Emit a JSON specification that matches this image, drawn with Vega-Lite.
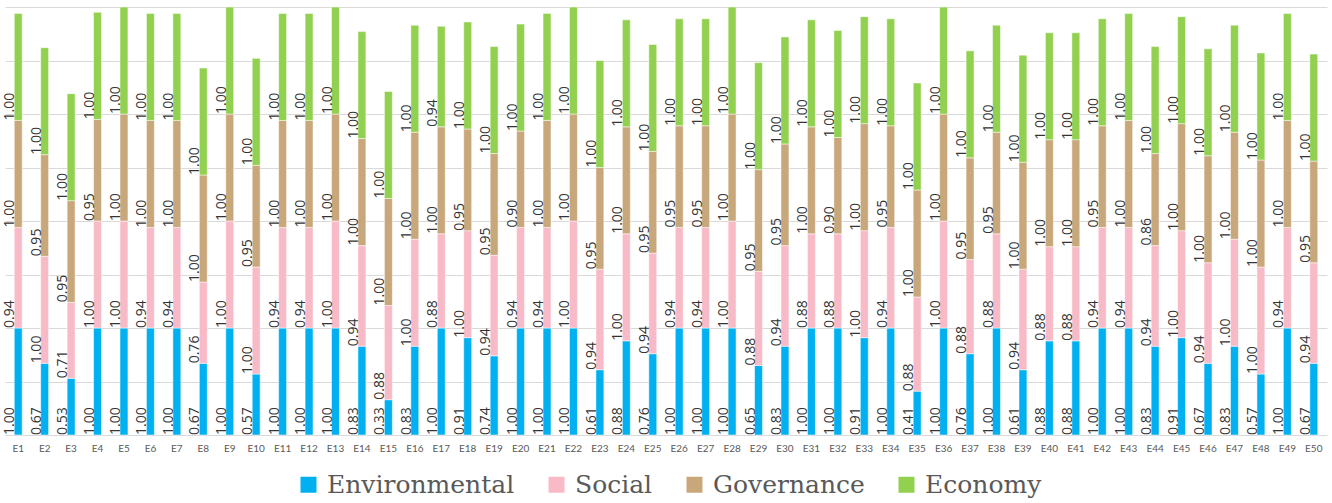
{
"$schema":"https://vega.github.io/schema/vega-lite/v6.json",
"width":1322,"height":428,
"autosize":{"type":"none"},
"padding":{"left":5,"top":7,"right":5,"bottom":68},
"background":"white",
"config":{"view":{"stroke":null}},
"data":{"values":[
{"e":"E1","c":"Environmental","v":1,"o":1},{"e":"E1","c":"Social","v":0.94,"o":2},{"e":"E1","c":"Governance","v":1,"o":3},{"e":"E1","c":"Economy","v":1,"o":4},
{"e":"E2","c":"Environmental","v":0.67,"o":1},{"e":"E2","c":"Social","v":1,"o":2},{"e":"E2","c":"Governance","v":0.95,"o":3},{"e":"E2","c":"Economy","v":1,"o":4},
{"e":"E3","c":"Environmental","v":0.53,"o":1},{"e":"E3","c":"Social","v":0.71,"o":2},{"e":"E3","c":"Governance","v":0.95,"o":3},{"e":"E3","c":"Economy","v":1,"o":4},
{"e":"E4","c":"Environmental","v":1,"o":1},{"e":"E4","c":"Social","v":1,"o":2},{"e":"E4","c":"Governance","v":0.95,"o":3},{"e":"E4","c":"Economy","v":1,"o":4},
{"e":"E5","c":"Environmental","v":1,"o":1},{"e":"E5","c":"Social","v":1,"o":2},{"e":"E5","c":"Governance","v":1,"o":3},{"e":"E5","c":"Economy","v":1,"o":4},
{"e":"E6","c":"Environmental","v":1,"o":1},{"e":"E6","c":"Social","v":0.94,"o":2},{"e":"E6","c":"Governance","v":1,"o":3},{"e":"E6","c":"Economy","v":1,"o":4},
{"e":"E7","c":"Environmental","v":1,"o":1},{"e":"E7","c":"Social","v":0.94,"o":2},{"e":"E7","c":"Governance","v":1,"o":3},{"e":"E7","c":"Economy","v":1,"o":4},
{"e":"E8","c":"Environmental","v":0.67,"o":1},{"e":"E8","c":"Social","v":0.76,"o":2},{"e":"E8","c":"Governance","v":1,"o":3},{"e":"E8","c":"Economy","v":1,"o":4},
{"e":"E9","c":"Environmental","v":1,"o":1},{"e":"E9","c":"Social","v":1,"o":2},{"e":"E9","c":"Governance","v":1,"o":3},{"e":"E9","c":"Economy","v":1,"o":4},
{"e":"E10","c":"Environmental","v":0.57,"o":1},{"e":"E10","c":"Social","v":1,"o":2},{"e":"E10","c":"Governance","v":0.95,"o":3},{"e":"E10","c":"Economy","v":1,"o":4},
{"e":"E11","c":"Environmental","v":1,"o":1},{"e":"E11","c":"Social","v":0.94,"o":2},{"e":"E11","c":"Governance","v":1,"o":3},{"e":"E11","c":"Economy","v":1,"o":4},
{"e":"E12","c":"Environmental","v":1,"o":1},{"e":"E12","c":"Social","v":0.94,"o":2},{"e":"E12","c":"Governance","v":1,"o":3},{"e":"E12","c":"Economy","v":1,"o":4},
{"e":"E13","c":"Environmental","v":1,"o":1},{"e":"E13","c":"Social","v":1,"o":2},{"e":"E13","c":"Governance","v":1,"o":3},{"e":"E13","c":"Economy","v":1,"o":4},
{"e":"E14","c":"Environmental","v":0.83,"o":1},{"e":"E14","c":"Social","v":0.94,"o":2},{"e":"E14","c":"Governance","v":1,"o":3},{"e":"E14","c":"Economy","v":1,"o":4},
{"e":"E15","c":"Environmental","v":0.33,"o":1},{"e":"E15","c":"Social","v":0.88,"o":2},{"e":"E15","c":"Governance","v":1,"o":3},{"e":"E15","c":"Economy","v":1,"o":4},
{"e":"E16","c":"Environmental","v":0.83,"o":1},{"e":"E16","c":"Social","v":1,"o":2},{"e":"E16","c":"Governance","v":1,"o":3},{"e":"E16","c":"Economy","v":1,"o":4},
{"e":"E17","c":"Environmental","v":1,"o":1},{"e":"E17","c":"Social","v":0.88,"o":2},{"e":"E17","c":"Governance","v":1,"o":3},{"e":"E17","c":"Economy","v":0.94,"o":4},
{"e":"E18","c":"Environmental","v":0.91,"o":1},{"e":"E18","c":"Social","v":1,"o":2},{"e":"E18","c":"Governance","v":0.95,"o":3},{"e":"E18","c":"Economy","v":1,"o":4},
{"e":"E19","c":"Environmental","v":0.74,"o":1},{"e":"E19","c":"Social","v":0.94,"o":2},{"e":"E19","c":"Governance","v":0.95,"o":3},{"e":"E19","c":"Economy","v":1,"o":4},
{"e":"E20","c":"Environmental","v":1,"o":1},{"e":"E20","c":"Social","v":0.94,"o":2},{"e":"E20","c":"Governance","v":0.9,"o":3},{"e":"E20","c":"Economy","v":1,"o":4},
{"e":"E21","c":"Environmental","v":1,"o":1},{"e":"E21","c":"Social","v":0.94,"o":2},{"e":"E21","c":"Governance","v":1,"o":3},{"e":"E21","c":"Economy","v":1,"o":4},
{"e":"E22","c":"Environmental","v":1,"o":1},{"e":"E22","c":"Social","v":1,"o":2},{"e":"E22","c":"Governance","v":1,"o":3},{"e":"E22","c":"Economy","v":1,"o":4},
{"e":"E23","c":"Environmental","v":0.61,"o":1},{"e":"E23","c":"Social","v":0.94,"o":2},{"e":"E23","c":"Governance","v":0.95,"o":3},{"e":"E23","c":"Economy","v":1,"o":4},
{"e":"E24","c":"Environmental","v":0.88,"o":1},{"e":"E24","c":"Social","v":1,"o":2},{"e":"E24","c":"Governance","v":1,"o":3},{"e":"E24","c":"Economy","v":1,"o":4},
{"e":"E25","c":"Environmental","v":0.76,"o":1},{"e":"E25","c":"Social","v":0.94,"o":2},{"e":"E25","c":"Governance","v":0.95,"o":3},{"e":"E25","c":"Economy","v":1,"o":4},
{"e":"E26","c":"Environmental","v":1,"o":1},{"e":"E26","c":"Social","v":0.94,"o":2},{"e":"E26","c":"Governance","v":0.95,"o":3},{"e":"E26","c":"Economy","v":1,"o":4},
{"e":"E27","c":"Environmental","v":1,"o":1},{"e":"E27","c":"Social","v":0.94,"o":2},{"e":"E27","c":"Governance","v":0.95,"o":3},{"e":"E27","c":"Economy","v":1,"o":4},
{"e":"E28","c":"Environmental","v":1,"o":1},{"e":"E28","c":"Social","v":1,"o":2},{"e":"E28","c":"Governance","v":1,"o":3},{"e":"E28","c":"Economy","v":1,"o":4},
{"e":"E29","c":"Environmental","v":0.65,"o":1},{"e":"E29","c":"Social","v":0.88,"o":2},{"e":"E29","c":"Governance","v":0.95,"o":3},{"e":"E29","c":"Economy","v":1,"o":4},
{"e":"E30","c":"Environmental","v":0.83,"o":1},{"e":"E30","c":"Social","v":0.94,"o":2},{"e":"E30","c":"Governance","v":0.95,"o":3},{"e":"E30","c":"Economy","v":1,"o":4},
{"e":"E31","c":"Environmental","v":1,"o":1},{"e":"E31","c":"Social","v":0.88,"o":2},{"e":"E31","c":"Governance","v":1,"o":3},{"e":"E31","c":"Economy","v":1,"o":4},
{"e":"E32","c":"Environmental","v":1,"o":1},{"e":"E32","c":"Social","v":0.88,"o":2},{"e":"E32","c":"Governance","v":0.9,"o":3},{"e":"E32","c":"Economy","v":1,"o":4},
{"e":"E33","c":"Environmental","v":0.91,"o":1},{"e":"E33","c":"Social","v":1,"o":2},{"e":"E33","c":"Governance","v":1,"o":3},{"e":"E33","c":"Economy","v":1,"o":4},
{"e":"E34","c":"Environmental","v":1,"o":1},{"e":"E34","c":"Social","v":0.94,"o":2},{"e":"E34","c":"Governance","v":0.95,"o":3},{"e":"E34","c":"Economy","v":1,"o":4},
{"e":"E35","c":"Environmental","v":0.41,"o":1},{"e":"E35","c":"Social","v":0.88,"o":2},{"e":"E35","c":"Governance","v":1,"o":3},{"e":"E35","c":"Economy","v":1,"o":4},
{"e":"E36","c":"Environmental","v":1,"o":1},{"e":"E36","c":"Social","v":1,"o":2},{"e":"E36","c":"Governance","v":1,"o":3},{"e":"E36","c":"Economy","v":1,"o":4},
{"e":"E37","c":"Environmental","v":0.76,"o":1},{"e":"E37","c":"Social","v":0.88,"o":2},{"e":"E37","c":"Governance","v":0.95,"o":3},{"e":"E37","c":"Economy","v":1,"o":4},
{"e":"E38","c":"Environmental","v":1,"o":1},{"e":"E38","c":"Social","v":0.88,"o":2},{"e":"E38","c":"Governance","v":0.95,"o":3},{"e":"E38","c":"Economy","v":1,"o":4},
{"e":"E39","c":"Environmental","v":0.61,"o":1},{"e":"E39","c":"Social","v":0.94,"o":2},{"e":"E39","c":"Governance","v":1,"o":3},{"e":"E39","c":"Economy","v":1,"o":4},
{"e":"E40","c":"Environmental","v":0.88,"o":1},{"e":"E40","c":"Social","v":0.88,"o":2},{"e":"E40","c":"Governance","v":1,"o":3},{"e":"E40","c":"Economy","v":1,"o":4},
{"e":"E41","c":"Environmental","v":0.88,"o":1},{"e":"E41","c":"Social","v":0.88,"o":2},{"e":"E41","c":"Governance","v":1,"o":3},{"e":"E41","c":"Economy","v":1,"o":4},
{"e":"E42","c":"Environmental","v":1,"o":1},{"e":"E42","c":"Social","v":0.94,"o":2},{"e":"E42","c":"Governance","v":0.95,"o":3},{"e":"E42","c":"Economy","v":1,"o":4},
{"e":"E43","c":"Environmental","v":1,"o":1},{"e":"E43","c":"Social","v":0.94,"o":2},{"e":"E43","c":"Governance","v":1,"o":3},{"e":"E43","c":"Economy","v":1,"o":4},
{"e":"E44","c":"Environmental","v":0.83,"o":1},{"e":"E44","c":"Social","v":0.94,"o":2},{"e":"E44","c":"Governance","v":0.86,"o":3},{"e":"E44","c":"Economy","v":1,"o":4},
{"e":"E45","c":"Environmental","v":0.91,"o":1},{"e":"E45","c":"Social","v":1,"o":2},{"e":"E45","c":"Governance","v":1,"o":3},{"e":"E45","c":"Economy","v":1,"o":4},
{"e":"E46","c":"Environmental","v":0.67,"o":1},{"e":"E46","c":"Social","v":0.94,"o":2},{"e":"E46","c":"Governance","v":1,"o":3},{"e":"E46","c":"Economy","v":1,"o":4},
{"e":"E47","c":"Environmental","v":0.83,"o":1},{"e":"E47","c":"Social","v":1,"o":2},{"e":"E47","c":"Governance","v":1,"o":3},{"e":"E47","c":"Economy","v":1,"o":4},
{"e":"E48","c":"Environmental","v":0.57,"o":1},{"e":"E48","c":"Social","v":1,"o":2},{"e":"E48","c":"Governance","v":1,"o":3},{"e":"E48","c":"Economy","v":1,"o":4},
{"e":"E49","c":"Environmental","v":1,"o":1},{"e":"E49","c":"Social","v":0.94,"o":2},{"e":"E49","c":"Governance","v":1,"o":3},{"e":"E49","c":"Economy","v":1,"o":4},
{"e":"E50","c":"Environmental","v":0.67,"o":1},{"e":"E50","c":"Social","v":0.94,"o":2},{"e":"E50","c":"Governance","v":0.95,"o":3},{"e":"E50","c":"Economy","v":1,"o":4}
]},
"transform":[{"stack":"v","groupby":["e"],"sort":[{"field":"o","order":"ascending"}],"as":["y0","y1"]}],
"encoding":{
"x":{"field":"e","type":"nominal","sort":null,"scale":{"paddingInner":0.7,"paddingOuter":0.35},
"axis":{"title":null,"labelAngle":0,"ticks":false,"domain":false,"labelFont":"Lato","labelFontSize":10,"labelColor":"#595959","labelPadding":8}},
"y":{"field":"y0","type":"quantitative","scale":{"domain":[0,4],"nice":false,"zero":true},
"axis":{"title":null,"labels":false,"ticks":false,"domain":false,"values":[0,0.5,1,1.5,2,2.5,3,3.5,4],"grid":true,"gridColor":"#D9D9D9","gridWidth":1}}
},
"layer":[
{"mark":{"type":"bar","stroke":"white","strokeWidth":0.5},
"encoding":{
"y2":{"field":"y1"},
"color":{"field":"c","type":"nominal","scale":{"domain":["Environmental","Social","Governance","Economy"],"range":["#00B0F0","#F8BAC6","#C8A77A","#92D050"]},
"legend":{"orient":"none","legendX":291,"legendY":465,"direction":"horizontal","title":null,"symbolType":"square","symbolSize":256,"symbolStrokeWidth":0,"labelFont":"DejaVu Serif","labelFontSize":25,"labelColor":"#595959","columnPadding":29,"labelOffset":6,"labelLimit":400}}
}},
{"mark":{"type":"text","angle":-90,"align":"left","baseline":"middle","dy":-8,"font":"Open Sans","fontSize":14,"color":"#333333"},
"encoding":{"text":{"field":"v","type":"quantitative","format":".2f"},"size":{"value":14}}}
]
}
